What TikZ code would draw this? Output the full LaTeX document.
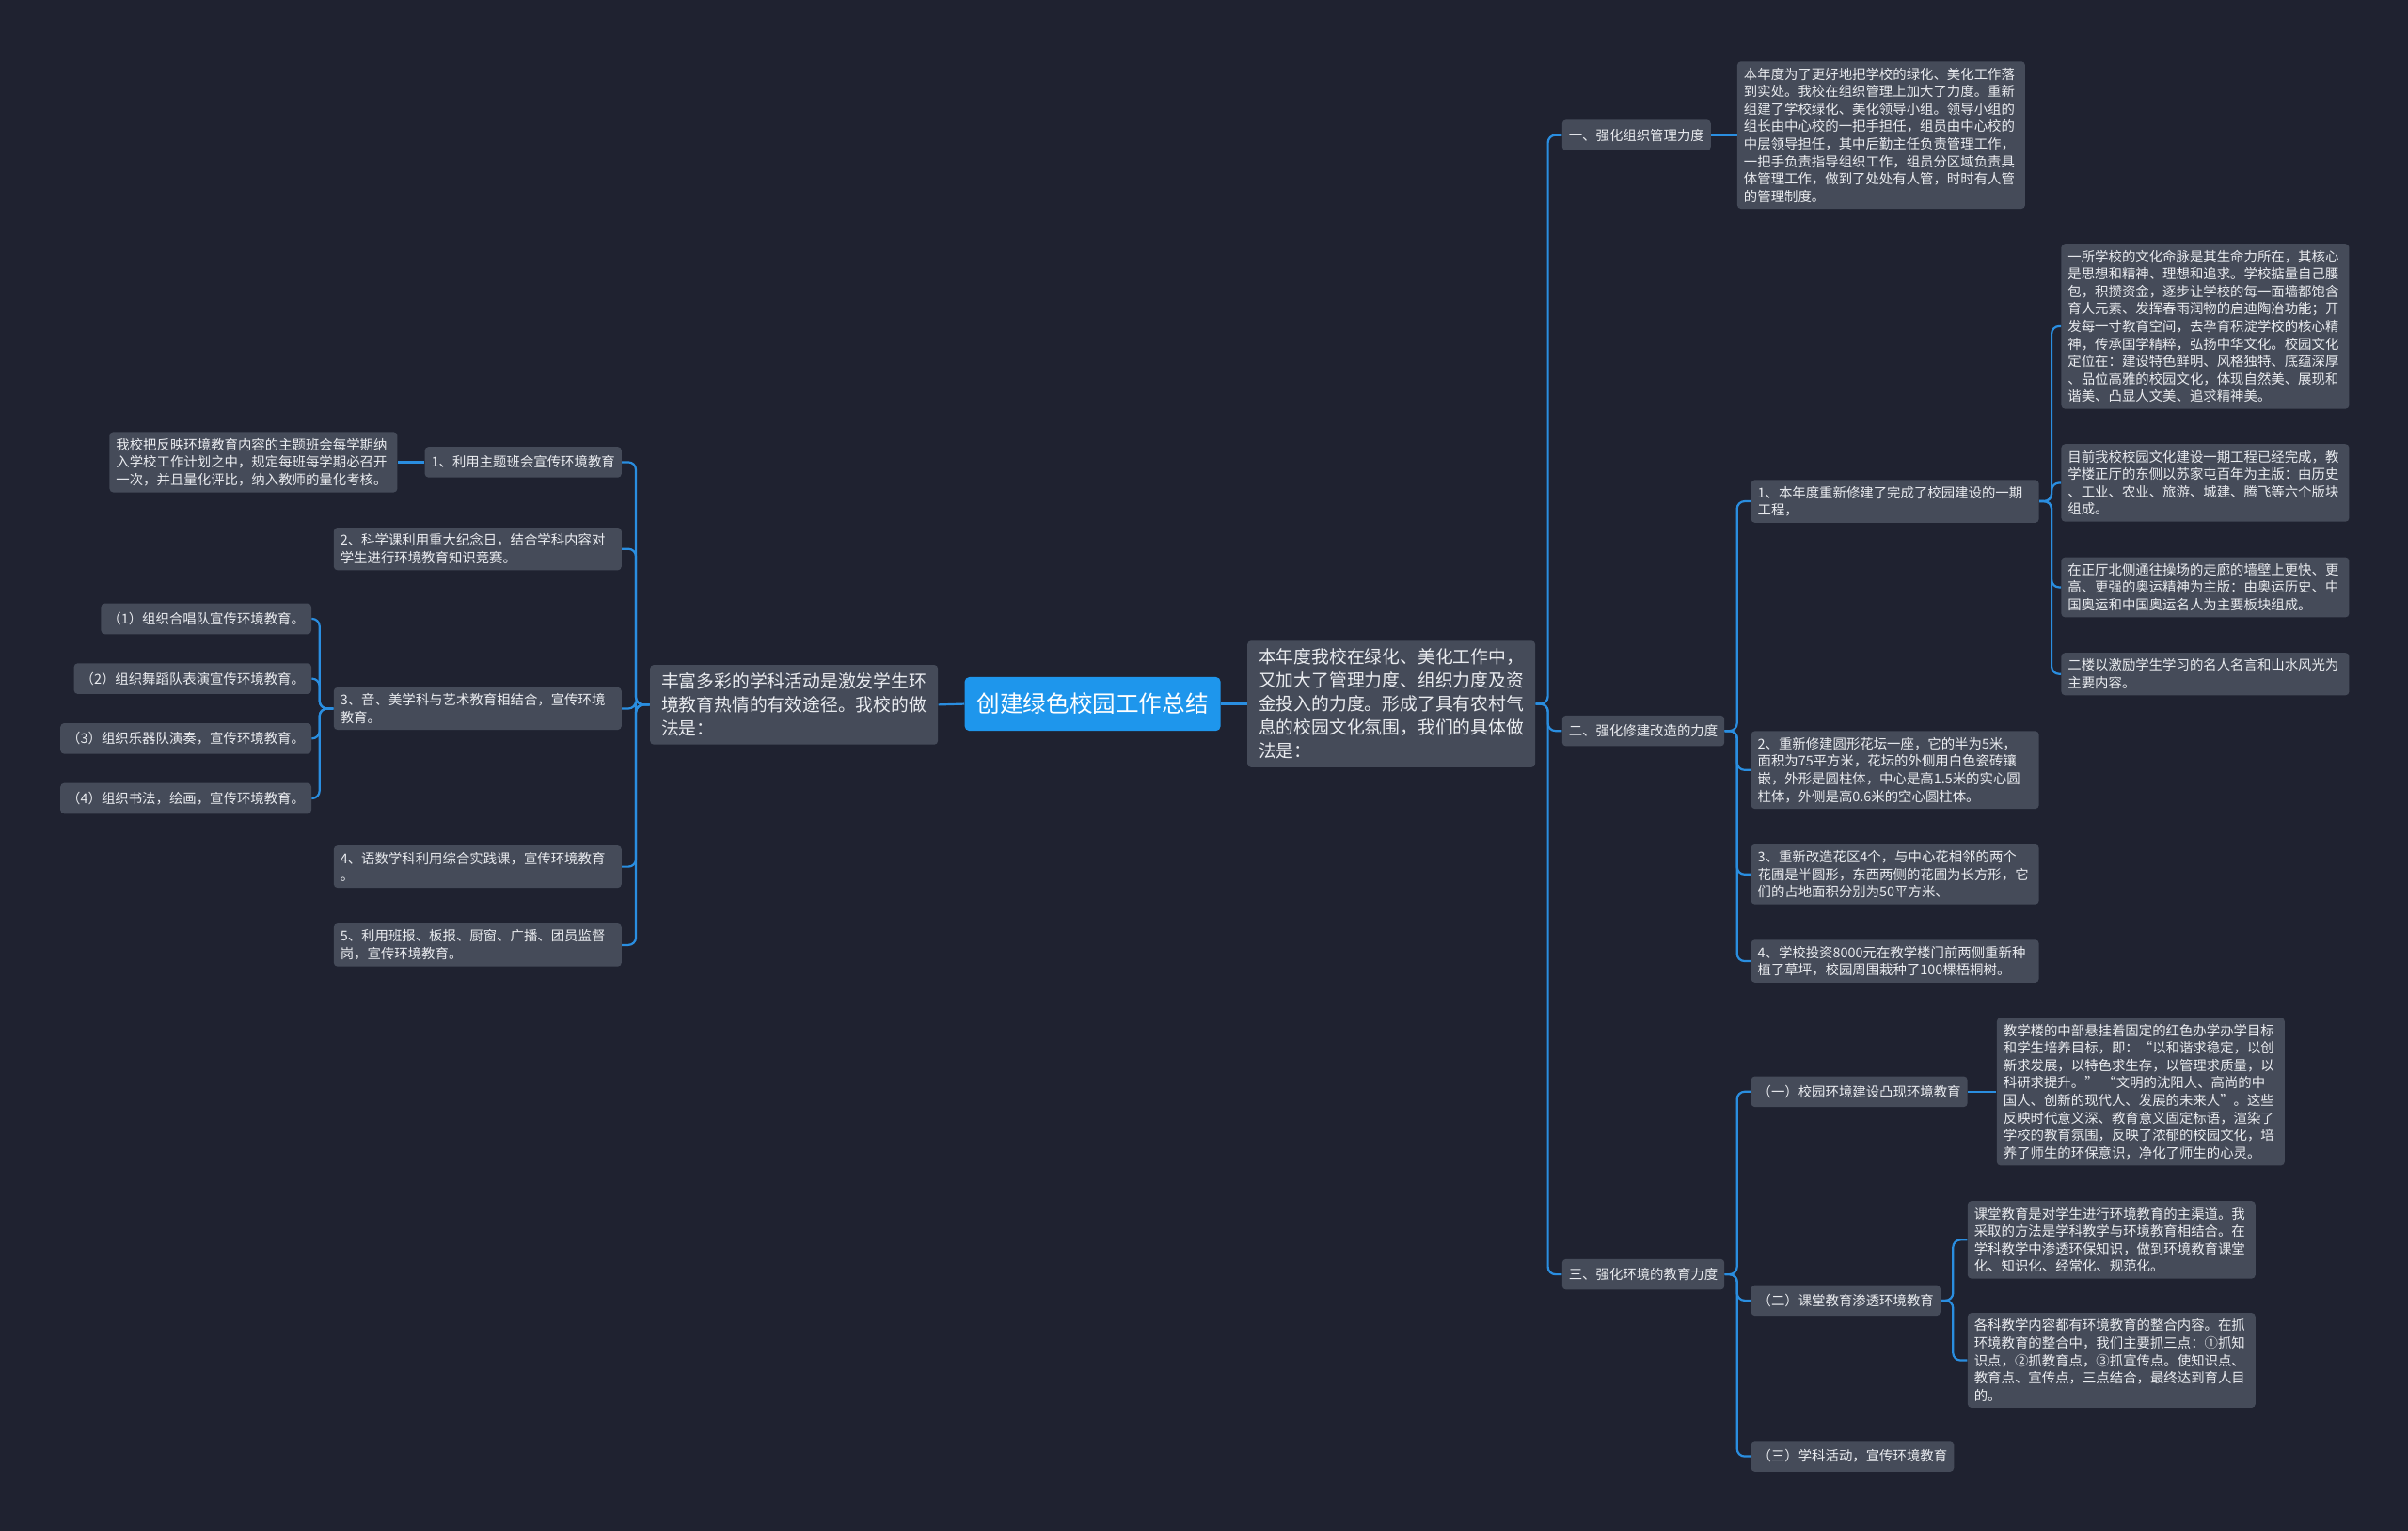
\documentclass[tikz,border=0pt]{standalone}
\usepackage{fontspec}
\setmainfont{Noto Sans CJK SC}
\usepackage{xcolor}
\usepackage{tikz}
\usetikzlibrary{positioning}

\definecolor{bgnavy}{HTML}{1F2230}
\definecolor{boxgray}{HTML}{454B59}
\definecolor{rootblue}{HTML}{1E96EC}
\definecolor{linkblue}{HTML}{2A8EE0}
\definecolor{txtwhite}{HTML}{E9EBEF}

\begin{document}
\begin{tikzpicture}[x=0.8163pt, y=-0.8163pt,
  every node/.style={font=\fontsize{7.2}{9.3}\selectfont, text=txtwhite},
  box/.style={fill=boxgray, rounded corners=2pt, inner xsep=3.5pt, inner ysep=3.3pt, align=left},
  tag/.style={box, minimum height=16.3pt},
  leaf/.style={box, text width=146pt},
  mid/.style={box, font=\fontsize{9.4}{12.5}\selectfont, text width=141pt, inner xsep=6pt, inner ysep=4.3pt},
  root/.style={fill=rootblue, rounded corners=2.5pt, font=\fontsize{12.3}{15}\selectfont, text=white, inner xsep=6.5pt, minimum height=28.6pt},
  link/.style={draw=linkblue, line width=1.1pt, rounded corners=4pt}]
  % Background
  \fill[bgnavy] (0,0) rectangle (1568,997);
  % Root and the two first-level boxes
  \node[root] (root) at (711.5,458.5) {创建绿色校园工作总结};
  \node[mid, anchor=west] (intro) at (812,458.5) {本年度我校在绿化、美化工作中，\\又加大了管理力度、组织力度及资\\金投入的力度。形成了具有农村气\\息的校园文化氛围，我们的具体做\\法是：};
  \node[mid, anchor=east] (lmain) at (611,459) {丰富多彩的学科活动是激发学生环\\境教育热情的有效途径。我校的做\\法是：};
  \draw[link] (root.east) -- (intro.west);
  \draw[link] (root.west) -- (lmain.east);

  % Right side: three topics
  \node[tag, anchor=west] (topA) at (1017,88) {一、强化组织管理力度};
  \node[tag, anchor=west] (topB) at (1017,476) {二、强化修建改造的力度};
  \node[tag, anchor=west] (topC) at (1017,830) {三、强化环境的教育力度};
  \foreach \t in {topA,topB,topC} {
    \draw[link] (intro.east) -- ++(8,0) |- (\t.west);
  }

  % Topic one
  \node[leaf, anchor=west] (orgtxt) at (1131,88) {本年度为了更好地把学校的绿化、美化工作落\\到实处。我校在组织管理上加大了力度。重新\\组建了学校绿化、美化领导小组。领导小组的\\组长由中心校的一把手担任，组员由中心校的\\中层领导担任，其中后勤主任负责管理工作，\\一把手负责指导组织工作，组员分区域负责具\\体管理工作，做到了处处有人管，时时有人管\\的管理制度。};
  \draw[link] (topA.east) -- (orgtxt.west);

  % Topic two
  \node[leaf, anchor=west] (buildA) at (1140,326.5) {1、本年度重新修建了完成了校园建设的一期\\工程，};
  \node[leaf, anchor=west] (buildB) at (1140,501.5) {2、重新修建圆形花坛一座，它的半为5米，\\面积为75平方米，花坛的外侧用白色瓷砖镶\\嵌，外形是圆柱体，中心是高1.5米的实心圆\\柱体，外侧是高0.6米的空心圆柱体。};
  \node[leaf, anchor=west] (buildC) at (1140,569.5) {3、重新改造花区4个，与中心花相邻的两个\\花圃是半圆形，东西两侧的花圃为长方形，它\\们的占地面积分别为50平方米、};
  \node[leaf, anchor=west] (buildD) at (1140,626) {4、学校投资8000元在教学楼门前两侧重新种\\植了草坪，校园周围栽种了100棵梧桐树。};
  \foreach \t in {buildA,buildB,buildC,buildD} {
    \draw[link] (topB.east) -- ++(8,0) |- (\t.west);
  }
  % Culture boxes under item 1
  \node[leaf, anchor=west] (cultA) at (1342,212.5) {一所学校的文化命脉是其生命力所在，其核心\\是思想和精神、理想和追求。学校掂量自己腰\\包，积攒资金，逐步让学校的每一面墙都饱含\\育人元素、发挥春雨润物的启迪陶冶功能；开\\发每一寸教育空间，去孕育积淀学校的核心精\\神，传承国学精粹，弘扬中华文化。校园文化\\定位在：建设特色鲜明、风格独特、底蕴深厚\\、品位高雅的校园文化，体现自然美、展现和\\谐美、凸显人文美、追求精神美。};
  \node[leaf, anchor=west] (cultB) at (1342,314.5) {目前我校校园文化建设一期工程已经完成，教\\学楼正厅的东侧以苏家屯百年为主版：由历史\\、工业、农业、旅游、城建、腾飞等六个版块\\组成。};
  \node[leaf, anchor=west] (cultC) at (1342,382.5) {在正厅北侧通往操场的走廊的墙壁上更快、更\\高、更强的奥运精神为主版：由奥运历史、中\\国奥运和中国奥运名人为主要板块组成。};
  \node[leaf, anchor=west] (cultD) at (1342,439) {二楼以激励学生学习的名人名言和山水风光为\\主要内容。};
  \foreach \t in {cultA,cultB,cultC,cultD} {
    \draw[link] (buildA.east) -- ++(8,0) |- (\t.west);
  }

  % Topic three
  \node[tag, anchor=west] (eduA) at (1140,711) {（一）校园环境建设凸现环境教育};
  \node[tag, anchor=west] (eduB) at (1140,847) {（二）课堂教育渗透环境教育};
  \node[tag, anchor=west] (eduC) at (1140,948.5) {（三）学科活动，宣传环境教育};
  \foreach \t in {eduA,eduB,eduC} {
    \draw[link] (topC.east) -- ++(8,0) |- (\t.west);
  }
  \node[leaf, anchor=west] (slogan) at (1300,711) {教学楼的中部悬挂着固定的红色办学办学目标\\和学生培养目标，即：“以和谐求稳定，以创\\新求发展，以特色求生存，以管理求质量，以\\科研求提升。”\ “文明的沈阳人、高尚的中\\国人、创新的现代人、发展的未来人”。这些\\反映时代意义深、教育意义固定标语，渲染了\\学校的教育氛围，反映了浓郁的校园文化，培\\养了师生的环保意识，净化了师生的心灵。};
  \draw[link] (eduA.east) -- (slogan.west);
  \node[leaf, anchor=west] (classA) at (1281,807.5) {课堂教育是对学生进行环境教育的主渠道。我\\采取的方法是学科教学与环境教育相结合。在\\学科教学中渗透环保知识，做到环境教育课堂\\化、知识化、经常化、规范化。};
  \node[leaf, anchor=west] (classB) at (1281,886) {各科教学内容都有环境教育的整合内容。在抓\\环境教育的整合中，我们主要抓三点：①抓知\\识点，②抓教育点，③抓宣传点。使知识点、\\教育点、宣传点，三点结合，最终达到育人目\\的。};
  \draw[link] (eduB.east) -- ++(8,0) |- (classA.west);
  \draw[link] (eduB.east) -- ++(8,0) |- (classB.west);

  % Left side: activities
  \node[tag, anchor=east] (actA) at (405,301) {1、利用主题班会宣传环境教育};
  \node[leaf, anchor=east] (actB) at (405,357.5) {2、科学课利用重大纪念日，结合学科内容对\\学生进行环境教育知识竞赛。};
  \node[leaf, anchor=east] (actC) at (405,461.5) {3、音、美学科与艺术教育相结合，宣传环境\\教育。};
  \node[leaf, anchor=east] (actD) at (405,564.5) {4、语数学科利用综合实践课，宣传环境教育\\。};
  \node[leaf, anchor=east] (actE) at (405,615.5) {5、利用班报、板报、厨窗、广播、团员监督\\岗，宣传环境教育。};
  \foreach \t in {actA,actB,actC,actD,actE} {
    \draw[link] (lmain.west) -- ++(-9,0) |- (\t.east);
  }
  \node[leaf, anchor=east] (meet) at (259,301) {我校把反映环境教育内容的主题班会每学期纳\\入学校工作计划之中，规定每班每学期必召开\\一次，并且量化评比，纳入教师的量化考核。};
  \draw[link] (actA.west) -- (meet.east);
  % Art groups
  \node[tag, anchor=east] (artA) at (203,403) {（1）组织合唱队宣传环境教育。};
  \node[tag, anchor=east] (artB) at (203,442) {（2）组织舞蹈队表演宣传环境教育。};
  \node[tag, anchor=east] (artC) at (203,481) {（3）组织乐器队演奏，宣传环境教育。};
  \node[tag, anchor=east] (artD) at (203,520) {（4）组织书法，绘画，宣传环境教育。};
  \foreach \t in {artA,artB,artC,artD} {
    \draw[link] (actC.west) -- ++(-9,0) |- (\t.east);
  }
\end{tikzpicture}
\end{document}
